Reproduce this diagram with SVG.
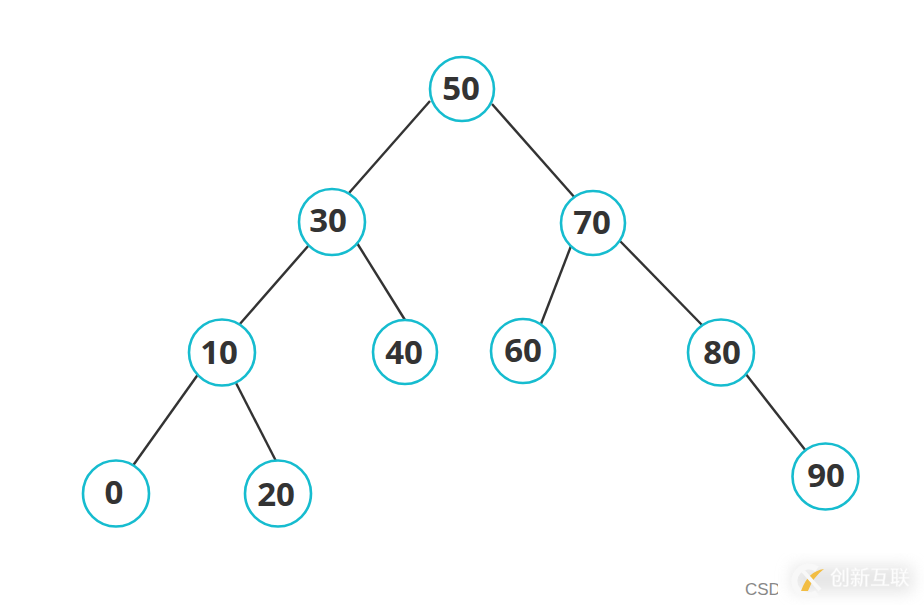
<svg xmlns="http://www.w3.org/2000/svg" width="924" height="609" viewBox="0 0 924 609">
<defs>
<style>
.n{fill:#fff;stroke:#16bccf;stroke-width:2.6}
.t{font-family:"Open Sans","Noto Sans",sans-serif;font-weight:700;font-size:33px;fill:#333;text-anchor:middle}
.e{stroke:#333;stroke-width:2.4;fill:none}
</style>
<filter id="b" x="-30%" y="-50%" width="160%" height="200%"><feGaussianBlur stdDeviation="8"/></filter>
<filter id="s" x="-10%" y="-10%" width="120%" height="120%"><feGaussianBlur stdDeviation="0.5"/></filter>
</defs>
<rect width="924" height="609" fill="#fff"/>
<g id="connectors">
<path class="e" d="M430 101L349 193"/>
<path class="e" d="M492 104L576 199"/>
<path class="e" d="M309 245L239 325"/>
<path class="e" d="M357 243L405 320"/>
<path class="e" d="M571 246L541 324"/>
<path class="e" d="M620 241L702 325"/>
<path class="e" d="M199 373L132 467"/>
<path class="e" d="M236 383L277 463"/>
<path class="e" d="M745 373L806 451"/>
</g>
<g id="n50"><circle class="n" cx="462" cy="89" r="32"/><text class="t" x="461" y="100">50</text></g>
<g id="n30"><circle class="n" cx="332" cy="222" r="33"/><text class="t" x="328" y="232">30</text></g>
<g id="n70"><circle class="n" cx="593" cy="223" r="32"/><text class="t" x="592" y="234">70</text></g>
<g id="n10"><circle class="n" cx="222" cy="352.500" r="33"/><text class="t" x="219" y="364">10</text></g>
<g id="n40"><circle class="n" cx="405" cy="352" r="32"/><text class="t" x="404" y="364">40</text></g>
<g id="n60"><circle class="n" cx="523" cy="351" r="32"/><text class="t" x="523" y="362">60</text></g>
<g id="n80"><circle class="n" cx="721" cy="352.500" r="33"/><text class="t" x="722" y="364">80</text></g>
<g id="n0"><circle class="n" cx="116" cy="493.500" r="33"/><text class="t" x="114" y="504">0</text></g>
<g id="n20"><circle class="n" cx="278" cy="493.500" r="33"/><text class="t" x="276" y="506">20</text></g>
<g id="n90"><circle class="n" cx="825.500" cy="476.500" r="33"/><text class="t" x="826" y="487">90</text></g>
<g id="watermark">
<text x="745" y="595" font-family="'Liberation Sans',sans-serif" font-size="17" fill="#888">CSD</text>
<rect x="778" y="556" width="146" height="53" fill="#fff"/>
<rect x="792" y="566" width="120" height="26" fill="#dcdcdc" opacity="0.75" filter="url(#b)"/>
<g filter="url(#s)">
<path d="M817 569A14.500 14.500 0 1 0 817 593" fill="none" stroke="#f8f8f8" stroke-width="6"/>
<path d="M801 591Q808 571 824 569Q813 577 808 591Z" fill="#f2bd42"/>
<path d="M803 571L820 590" stroke="#f8f8f8" stroke-width="4"/>
<text x="830" y="585" font-family="'Noto Sans CJK SC',sans-serif" font-size="20" font-weight="500" fill="#fdfdfd" stroke="#f0f0f0" stroke-width="0.3">创新互联</text>
</g>
</g>
</svg>
